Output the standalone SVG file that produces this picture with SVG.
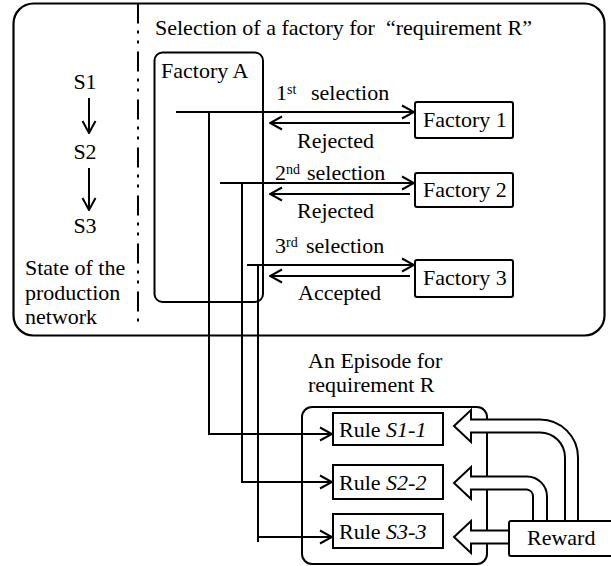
<svg xmlns="http://www.w3.org/2000/svg" width="611" height="566" viewBox="0 0 611 566" font-family="Liberation Serif, Times New Roman, serif" font-size="22">
  <defs>
    <style>
      .sup { font-size: 14px; }
      .it { font-style: italic; }
      .box { fill: #fff; stroke: #000; stroke-width: 2; }
      .frame { fill: none; stroke: #000; stroke-width: 2.2; }
      .line { fill: none; stroke: #000; stroke-width: 2; }
      .fat { fill: #fff; stroke: #000; stroke-width: 2; stroke-linejoin: miter; }
    </style>
    <marker id="chev" viewBox="0 0 14 16" refX="13" refY="8" markerWidth="14" markerHeight="16" markerUnits="userSpaceOnUse" orient="auto">
      <path d="M1,1.5 L13,8 L1,14.5" fill="none" stroke="#000" stroke-width="2"/>
    </marker>
  </defs>

  <!-- production network frame -->
  <g id="network-frame">
    <rect class="frame" x="13.5" y="3.5" width="591" height="332" rx="20"/>
    <line x1="138" y1="3.5" x2="138" y2="324" stroke="#000" stroke-width="2" stroke-dasharray="20 7 3 7 3 8"/>
    <text x="155" y="35" xml:space="preserve">Selection of a factory for  “requirement R”</text>
  </g>

  <!-- state sequence -->
  <g id="states">
    <text x="85" y="89" text-anchor="middle">S1</text>
    <text x="85" y="159" text-anchor="middle">S2</text>
    <text x="85" y="233" text-anchor="middle">S3</text>
    <text x="25" y="275">State of the</text>
    <text x="25" y="300">production</text>
    <text x="25" y="324">network</text>
  </g>

  <g id="factory-a">
    <rect x="154.5" y="52.5" width="108.5" height="249.5" rx="8" fill="none" stroke="#000" stroke-width="2"/>
    <text x="161" y="78">Factory A</text>
  </g>

  <g id="factory-1">
    <rect class="box" x="415" y="102" width="98" height="36" rx="2"/>
    <text x="423" y="127">Factory 1</text>
  </g>
  <g id="factory-2">
    <rect class="box" x="415" y="173" width="98" height="34" rx="2"/>
    <text x="423" y="197">Factory 2</text>
  </g>
  <g id="factory-3">
    <rect class="box" x="415" y="260" width="98" height="37" rx="2"/>
    <text x="423" y="285">Factory 3</text>
  </g>

  <!-- selection labels -->
  <g id="labels">
    <text x="276" y="100">1<tspan class="sup" dy="-6">st</tspan><tspan x="311" dy="6">selection</tspan></text>
    <text x="297" y="148">Rejected</text>
    <text x="275" y="180">2<tspan class="sup" dy="-6">nd</tspan><tspan x="307" dy="6">selection</tspan></text>
    <text x="297" y="218">Rejected</text>
    <text x="275" y="253">3<tspan class="sup" dy="-6">rd</tspan><tspan x="306" dy="6">selection</tspan></text>
    <text x="298" y="300">Accepted</text>
    <text x="308" y="368">An Episode for</text>
    <text x="308" y="392">requirement R</text>
  </g>

  <g id="episode">
    <rect class="box" x="302" y="407" width="185" height="157" rx="10"/>
  </g>
  <g id="rule-s1-1">
    <rect class="box" x="333" y="413" width="110" height="32"/>
    <text x="339" y="437">Rule <tspan class="it">S1-1</tspan></text>
  </g>
  <g id="rule-s2-2">
    <rect class="box" x="333" y="465" width="110" height="34"/>
    <text x="339" y="490">Rule <tspan class="it">S2-2</tspan></text>
  </g>
  <g id="rule-s3-3">
    <rect class="box" x="333" y="514" width="110" height="34"/>
    <text x="339" y="539">Rule <tspan class="it">S3-3</tspan></text>
  </g>

  <!-- connectors -->
  <g id="connectors">
    <line class="line" x1="89" y1="98" x2="89" y2="133" marker-end="url(#chev)"/>
    <line class="line" x1="89" y1="168" x2="89" y2="210" marker-end="url(#chev)"/>

    <line class="line" x1="176" y1="112" x2="414" y2="112" marker-end="url(#chev)"/>
    <line class="line" x1="410" y1="123" x2="270" y2="123" marker-end="url(#chev)"/>
    <line class="line" x1="220" y1="183" x2="414" y2="183" marker-end="url(#chev)"/>
    <line class="line" x1="410" y1="194" x2="270" y2="194" marker-end="url(#chev)"/>
    <line class="line" x1="247" y1="265" x2="414" y2="265" marker-end="url(#chev)"/>
    <line class="line" x1="410" y1="276" x2="270" y2="276" marker-end="url(#chev)"/>

    <path class="line" d="M209,112 V434 H332" marker-end="url(#chev)"/>
    <path class="line" d="M242,183 V482 H332" marker-end="url(#chev)"/>
    <line class="line" x1="258" y1="265" x2="258" y2="542"/>
    <line class="line" x1="258" y1="537" x2="332" y2="537" marker-end="url(#chev)"/>

    <!-- reward arrows -->
    <path class="fat" d="M578,522 V457.5 A38,38 0 0 0 540,419.5 H471 V410 L454,426 L471,442 V432.5 H540 A25,25 0 0 1 565,457.5 V522"/>
    <path class="fat" d="M547,522 V496.5 A20,20 0 0 0 527,476.5 H471 V467 L454,483 L471,499 V489.5 H527 A7,7 0 0 1 533,496.5 V522"/>
    <path class="fat" d="M510,530.5 H471 V521 L454,537 L471,553 V543.5 H510"/>
  </g>

  <g id="reward">
    <rect class="box" x="509" y="521" width="110" height="35" rx="2"/>
    <text x="527" y="545">Reward</text>
  </g>
</svg>
